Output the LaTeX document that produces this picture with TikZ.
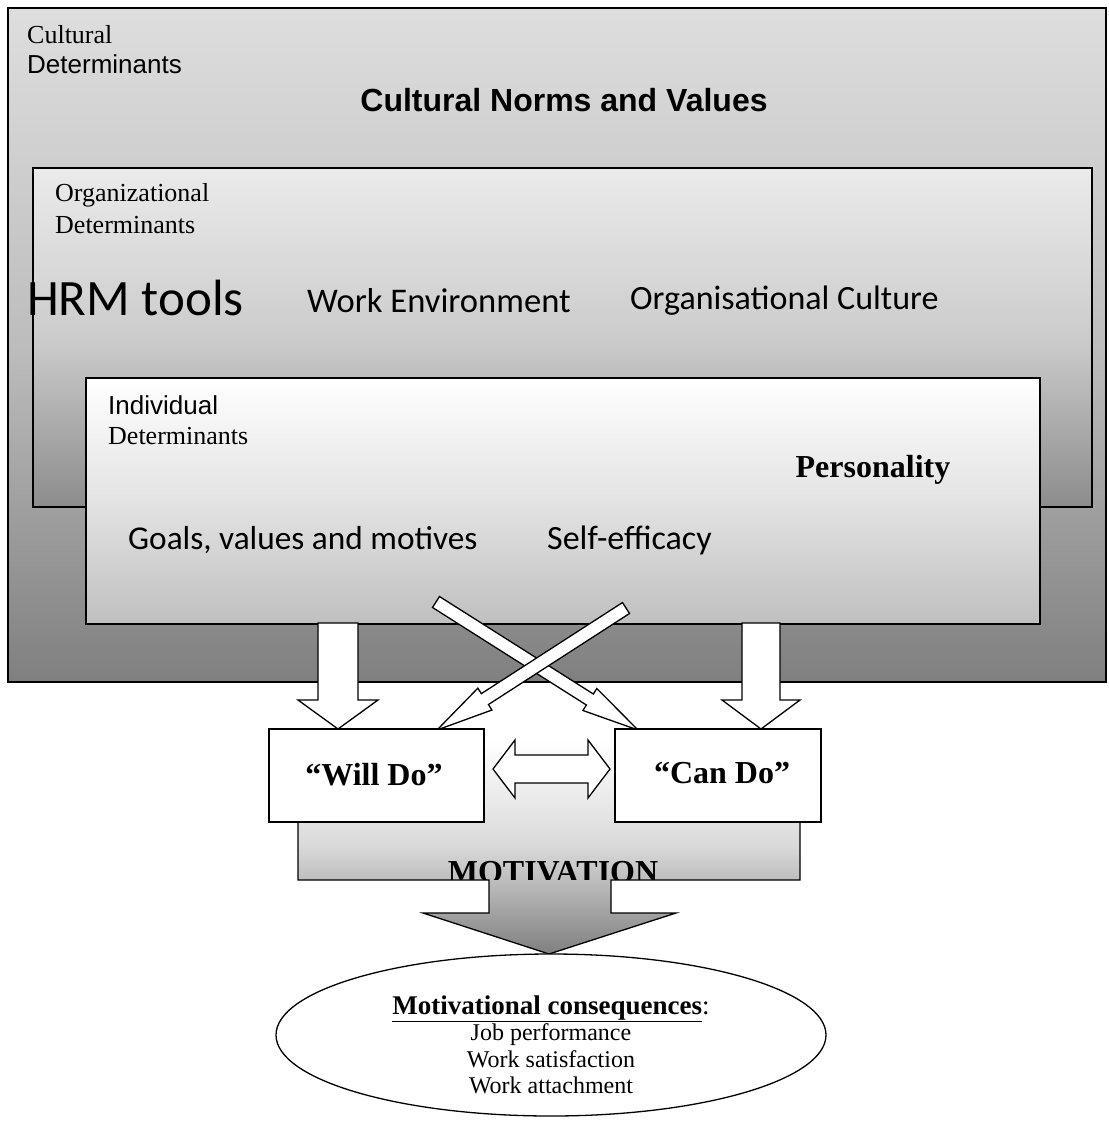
\documentclass[tikz,border=0pt]{standalone}
\usepackage{fontspec}
\setmainfont{Liberation Serif}
\newfontfamily\arialfont{Liberation Sans}
\newfontfamily\calibrifont{Carlito}
\usetikzlibrary{calc,shapes.geometric}

\definecolor{cultTop}{gray}{0.87}
\definecolor{cultMid}{gray}{0.74}
\definecolor{cultBot}{gray}{0.5}
\definecolor{orgTop}{gray}{0.92}
\definecolor{orgMid}{gray}{0.80}
\definecolor{orgBot}{gray}{0.55}
\definecolor{indTop}{gray}{1}
\definecolor{indMid}{gray}{0.89}
\definecolor{indBot}{gray}{0.75}
\definecolor{motTop}{gray}{1}
\definecolor{motMid}{gray}{0.85}
\definecolor{motBot}{gray}{0.5}

% block arrow: [style] from, to, half shaft, half head, head length
\newcommand{\blockarrow}[6][]{%
  \coordinate (hb) at ($(#3)!#6!(#2)$);
  \draw[#1] ($(#2)!#4!90:(#3)$) -- ($(hb)!#4!90:(#3)$) -- ($(hb)!#5!90:(#3)$)
    -- (#3) -- ($(hb)!#5!-90:(#3)$) -- ($(hb)!#4!-90:(#3)$)
    -- ($(#2)!#4!-90:(#3)$) -- cycle;
}
% double block arrow: [style] end, end, half shaft, half head, head length
\newcommand{\dblarrow}[6][]{%
  \coordinate (hba) at ($(#2)!#6!(#3)$);
  \coordinate (hbb) at ($(#3)!#6!(#2)$);
  \draw[#1] (#2) -- ($(hba)!#5!90:(#3)$) -- ($(hba)!#4!90:(#3)$)
    -- ($(hbb)!#4!-90:(#2)$) -- ($(hbb)!#5!-90:(#2)$) -- (#3)
    -- ($(hbb)!#5!90:(#2)$) -- ($(hbb)!#4!90:(#2)$)
    -- ($(hba)!#4!-90:(#3)$) -- ($(hba)!#5!-90:(#3)$) -- cycle;
}

\begin{document}
\begin{tikzpicture}[x=1pt,y=-1pt,
    detbox/.style={draw, line width=1.6pt, inner sep=0pt, outer sep=0pt, anchor=north west},
    dobox/.style={draw, line width=1.3pt, fill=white, inner sep=0pt, outer sep=0pt, anchor=north west},
    txt/.style={inner sep=0pt, anchor=west, font=\fontsize{26}{30}\selectfont},
    bigtxt/.style={inner sep=0pt, anchor=west, font=\calibrifont\fontsize{34}{40}\selectfont},
    arrowshape/.style={draw, line width=1.3pt, fill=white, line join=miter}
  ]
  \useasboundingbox (0,0) rectangle (1108,1126);

  \node[detbox, minimum width=1098pt, minimum height=674pt,
    top color=cultTop, bottom color=cultBot, middle color=cultMid] (cult) at (8,8) {};
  \node[txt] (cultA) at (27,35) {Cultural};
  \node[txt, font=\arialfont\fontsize{26}{30}\selectfont] (cultB) at (27,64) {Determinants};
  \node[inner sep=0pt, font=\arialfont\bfseries\fontsize{32}{38}\selectfont] (norms) at (564,100) {Cultural Norms and Values};

  \node[detbox, minimum width=1059pt, minimum height=339pt,
    top color=orgTop, bottom color=orgBot, middle color=orgMid] (org) at (33,168) {};
  \node[txt] (orgA) at (55,195) {Organizational};
  \node[txt] (orgB) at (55,225) {Determinants};
  \node[inner sep=0pt, anchor=west, font=\calibrifont\fontsize{51}{58}\selectfont] (hrm) at (27,298) {HRM tools};
  \node[bigtxt, font=\calibrifont\fontsize{34.6}{40}\selectfont] (workenv) at (307,301) {Work Environment};
  \node[bigtxt] (orgcult) at (630,301) {Organisational Culture};

  \node[detbox, minimum width=954pt, minimum height=246pt,
    top color=indTop, bottom color=indBot, middle color=indMid] (indiv) at (86,378) {};
  \node[txt, font=\arialfont\fontsize{26}{30}\selectfont] (indA) at (108,405) {Individual};
  \node[txt] (indB) at (108,436) {Determinants};
  \node[inner sep=0pt, font=\bfseries\fontsize{32}{38}\selectfont] (person) at (873,470) {Personality};
  \node[bigtxt, font=\calibrifont\fontsize{33.3}{40}\selectfont] (goals) at (128,540) {Goals, values and motives};
  \node[bigtxt] (selfeff) at (547,540) {Self-efficacy};

  % motivation arrow
  \path[top color=motTop, bottom color=motBot, middle color=motMid]
    (298,740) -- (800,740) -- (800,880) -- (611,880) -- (611,913) -- (676,913)
    -- (549,954) -- (423,913) -- (489,913) -- (489,880) -- (298,880) -- cycle;
  \draw[line width=1.3pt, line join=miter] (800,760) -- (800,880) -- (611,880) -- (611,913) -- (676,913)
    -- (549,954) -- (423,913) -- (489,913) -- (489,880) -- (298,880) -- (298,760);
  \begin{scope}
    \clip (298,740) rectangle (800,879);
    \node[inner sep=0pt, anchor=base, font=\bfseries\fontsize{32}{38}\selectfont] (motiv) at (553,882) {MOTIVATION};
  \end{scope}

  % arrows from individual determinants
  \coordinate (dA1) at (338,623);
  \coordinate (dA2) at (338,729);
  \coordinate (dB1) at (761,623);
  \coordinate (dB2) at (761,729);
  \coordinate (xA1) at (436,602);
  \coordinate (xA2) at (638,730);
  \coordinate (xB1) at (626,608);
  \coordinate (xB2) at (437,730);
  \blockarrow[arrowshape]{dA1}{dA2}{20pt}{40pt}{29pt}
  \blockarrow[arrowshape]{dB1}{dB2}{19pt}{39pt}{29pt}
  \blockarrow[arrowshape]{xA1}{xA2}{6.5pt}{13pt}{57pt}
  \blockarrow[arrowshape]{xB1}{xB2}{6.5pt}{13pt}{57pt}

  \node[dobox, minimum width=215pt, minimum height=93pt] (willdo) at (269,729) {};
  \node[dobox, minimum width=206pt, minimum height=93pt] (cando) at (615,729) {};
  \node[inner sep=0pt, font=\bfseries\fontsize{32}{38}\selectfont] (willtxt) at (374,775) {``Will Do''};
  \node[inner sep=0pt, font=\bfseries\fontsize{32}{38}\selectfont] (cantxt) at (722,773) {``Can Do''};

  \coordinate (dbl1) at (493,769);
  \coordinate (dbl2) at (610,769);
  \dblarrow[arrowshape]{dbl1}{dbl2}{14pt}{29pt}{22pt}

  \node[draw, ellipse, line width=1.3pt, fill=white, minimum width=550pt, minimum height=162pt] (cons) at (551,1035) {};
  \node[inner sep=0pt, align=center, font=\fontsize{24}{26.5}\selectfont] (constxt) at (551,1045)
    {{\fontsize{27}{27}\selectfont\underline{\textbf{Motivational consequences}}:}\\Job performance\\Work satisfaction\\Work attachment};
\end{tikzpicture}
\end{document}
